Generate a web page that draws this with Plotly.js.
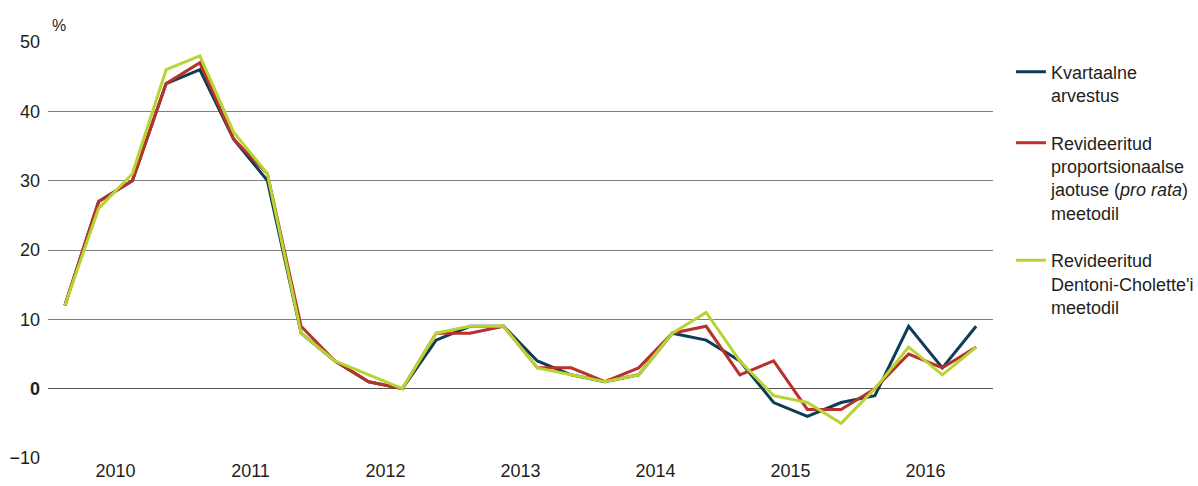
<!DOCTYPE html>
<html>
<head>
<meta charset="utf-8">
<script src="https://cdn.plot.ly/plotly-3.0.1.min.js"></script>
<style>html,body{margin:0;padding:0;background:#fff;}#chart{width:1198px;height:486px;}</style>
</head>
<body>
<div id="chart"></div>
<script>
// Quarterly data, 2010 Q1 – 2016 Q4
const years = ['2010', '2011', '2012', '2013', '2014', '2015', '2016'];
const quarterIndex = Array.from({length: 28}, (_, i) => i + 0.5);

const kvartaalne = [12, 27, 30, 44, 46, 36, 30, 8, 4, 1, 0, 7, 9, 9, 4, 2, 1, 2, 8, 7, 4, -2, -4, -2, -1, 9, 3, 9];
const proRata    = [12, 27, 30, 44, 47, 36, 31, 9, 4, 1, 0, 8, 8, 9, 3, 3, 1, 3, 8, 9, 2, 4, -3, -3, 0, 5, 3, 6];
const dentoni    = [12, 26, 31, 46, 48, 37, 31, 8, 4, 2, 0, 8, 9, 9, 3, 2, 1, 2, 8, 11, 4, -1, -2, -5, 0, 6, 2, 6];

const seriesNames = [
  'Kvartaalne<br>arvestus',
  'Revideeritud<br>proportsionaalse<br>jaotuse (<i>pro rata</i>)<br>meetodil',
  "Revideeritud<br>Dentoni-Cholette'i<br>meetodil"
];
const seriesColors = ['#0d3d55', '#b9312a', '#b8d432'];

const yTickVals = [-10, 0, 10, 20, 30, 40, 50];
const yTickText = ['\u221210', '<b>0</b>', '10', '20', '30', '40', '50'];

const yearBoundaries = [0, 4, 8, 12, 16, 20, 24, 28];
const yearCenters = [2, 6, 10, 14, 18, 22, 26];

const font = 'Liberation Sans, Arial, sans-serif';
const dataSets = [kvartaalne, proRata, dentoni];

const traces = dataSets.map((vals, k) => ({
  x: quarterIndex,
  y: vals,
  type: 'scatter',
  mode: 'lines',
  name: seriesNames[k],
  legendgroup: 'g' + k,
  line: {color: seriesColors[k], width: 3},
  hoverinfo: 'skip'
}));

const layout = {
  width: 1198,
  height: 486,
  margin: {l: 48, r: 205, t: 42, b: 28, autoexpand: false},
  paper_bgcolor: '#ffffff',
  plot_bgcolor: '#ffffff',
  font: {family: font, size: 18, color: '#231f20'},
  showlegend: true,
  legend: {
    x: 1.019, xanchor: 'left',
    y: 0.972, yanchor: 'top',
    xref: 'paper', yref: 'paper',
    traceorder: 'grouped',
    tracegroupgap: 21,
    valign: 'top',
    font: {family: font, size: 18, color: '#231f20'},
    bgcolor: 'rgba(0,0,0,0)',
    itemclick: false
  },
  xaxis: {
    range: [0, 28],
    tickmode: 'array',
    tickvals: yearCenters,
    ticktext: years,
    ticks: '',
    ticklabelstandoff: 0,
    showgrid: false,
    zeroline: false,
    showline: false,
    fixedrange: true,
    tickfont: {family: font, size: 18, color: '#231f20'}
  },
  xaxis2: {
    overlaying: 'x',
    matches: 'x',
    range: [0, 28],
    anchor: 'free',
    position: 1 / 6,
    side: 'bottom',
    tickmode: 'array',
    tickvals: yearBoundaries,
    ticktext: yearBoundaries.map(() => ''),
    ticks: 'outside',
    ticklen: 6,
    tickwidth: 1,
    tickcolor: '#333333',
    showgrid: false,
    zeroline: false,
    showline: false,
    showticklabels: false
  },
  yaxis: {
    range: [-10, 50],
    tickmode: 'array',
    tickvals: yTickVals,
    ticktext: yTickText,
    ticks: '',
    showgrid: true,
    gridcolor: '#808080',
    gridwidth: 1,
    zeroline: true,
    zerolinecolor: '#555555',
    zerolinewidth: 1,
    showline: false,
    fixedrange: true,
    ticklabelstandoff: 7,
    tickfont: {family: font, size: 18, color: '#231f20'}
  },
  annotations: [{
    text: '%',
    xref: 'paper', yref: 'paper',
    x: 0, y: 1,
    xanchor: 'left', yanchor: 'bottom',
    xshift: 2, yshift: 6,
    showarrow: false,
    font: {family: font, size: 16, color: '#231f20'}
  }]
};

Plotly.newPlot('chart', traces, layout, {displayModeBar: false, staticPlot: true});
</script>
</body>
</html>
